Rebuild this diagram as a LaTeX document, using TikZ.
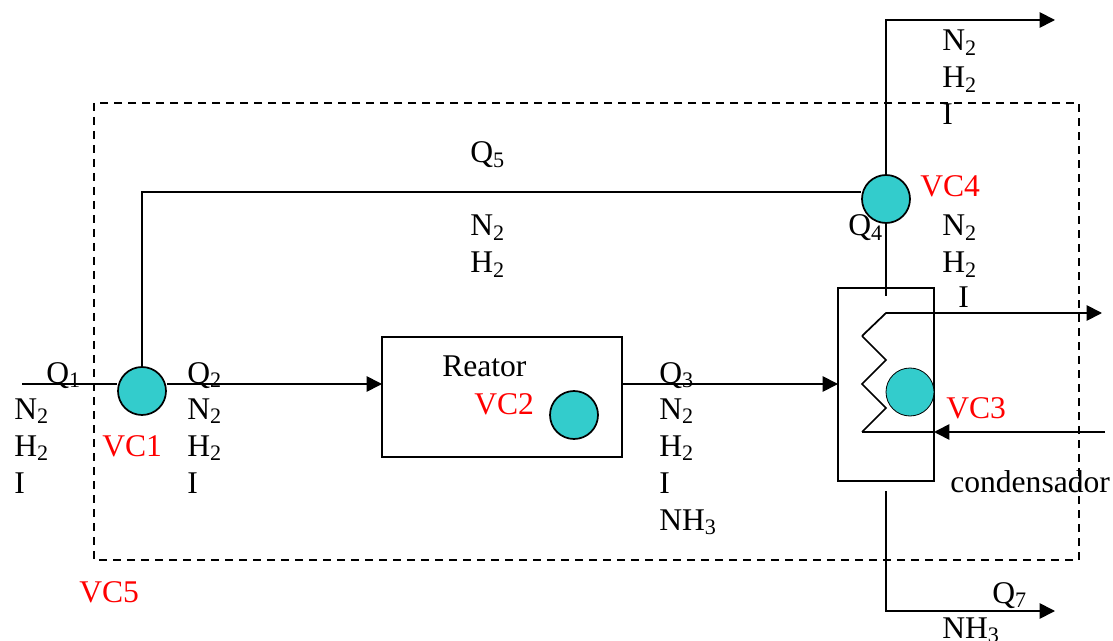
\documentclass[tikz,border=0pt]{standalone}
\usepackage{fontspec}
\setmainfont{Liberation Serif}
\usetikzlibrary{arrows.meta}
\usetikzlibrary{positioning}
\newcommand{\Ntwo}{N\textsubscript{2}}
\newcommand{\Htwo}{H\textsubscript{2}}
\newcommand{\NHtres}{NH\textsubscript{3}}
\newcommand{\Qsub}[1]{Q\textsubscript{#1}}
\definecolor{vcfill}{RGB}{51,204,204}
\tikzset{
	vc/.style={circle,draw,fill=vcfill,line width=1.3pt,minimum size=36pt,inner sep=0pt},
	equip/.style={draw,line width=1.3pt,inner sep=0pt},
	lbl/.style={anchor=base west,inner sep=0pt,font=\fontsize{23.7}{27.75}\selectfont,align=left},
	vclbl/.style={lbl,red},
	flow/.style={line width=1.3pt},
	flowarr/.style={flow,-{Triangle[length=11.5pt,width=11.5pt]}}
}
\begin{document}
\begin{tikzpicture}[x=0.75pt,y=-0.75pt]
			
			\useasboundingbox (0,0) rectangle (1113,641);
			
			\draw[line width=1.1pt,dash pattern=on 6pt off 4.5pt] (94,103) rectangle (1079,560);
			
			% equipamentos
			\node[equip,minimum width=180pt,minimum height=90pt] (reator) at (502,397) {};
			\node[equip,minimum width=72pt,minimum height=144.75pt] (cond) at (886,384.5) {};
			
			\coordinate (ent) at (22,384);
			\coordinate (reatorin) at (382,384);
			\coordinate (reatorout) at (622,384);
			\coordinate (condin) at (838,384);
			\coordinate (cantoA) at (142,192);
			\coordinate (cantoB) at (886,20);
			\coordinate (topo) at (1055,20);
			\coordinate (condtop) at (886,296);
			\coordinate (condbot) at (886,491);
			\coordinate (cantoC) at (886,611);
			\coordinate (baixo) at (1055,611);
			\coordinate (gasout) at (1102,313);
			\coordinate (aguain) at (1105,432);
			\coordinate (aguatip) at (934,432);
			\coordinate (coilA) at (862,336);
			\coordinate (coilB) at (862,432);
			
			\node[lbl] (q4) at (848,236) {\Qsub{4}};
			
			\node[vc] (vc1) at (142,391) {};
			\node[vc] (vc2) at (574,415) {};
			\node[vc,line width=0.6pt] (vc3) at (910,392) {};
			\node[vc] (vc4) at (886,199) {};
			
			% correntes
			\draw[flow] (ent) -- (vc1.west |- ent);
			\draw[flowarr] (vc1.east |- ent) -- (reatorin);
			\draw[flowarr] (reatorout) -- (condin);
			\draw[flow] (vc1.north) -- (cantoA) -- (vc4.west |- cantoA);
			\draw[flowarr] (vc4.north) -- (cantoB) -- (topo);
			\draw[flow] (vc4.south) -- (condtop);
			\draw[flowarr] (condbot) -- (cantoC) -- (baixo);
			\draw[flow] (coilB) -- (aguatip);
			\draw[flowarr] (aguain) -- (aguatip);
			\draw[flowarr] (coilA) -- (886,313) -- (gasout);
			\draw[flow] (coilA) -- (886,360) -- (862,384) -- (886,408) -- (coilB);
			
			% textos
			\node[lbl] (q1) at (46,383) {\Qsub{1}};
			\node[lbl] (s1) at (14,493) {\Ntwo\\\Htwo\\I};
			\node[lbl] (q2) at (187,383) {\Qsub{2}};
			\node[lbl] (s2) at (187,493) {\Ntwo\\\Htwo\\I};
			\node[lbl] (q3) at (659,383) {\Qsub{3}};
			\node[lbl] (s3) at (659,530) {\Ntwo\\\Htwo\\I\\\NHtres};
			\node[lbl] (q5) at (470,163) {\Qsub{5}};
			\node[lbl] (s5) at (470,273) {\Ntwo\\\Htwo};
			\node[lbl] (s6) at (942,125) {\Ntwo\\\Htwo\\I};
			\node[lbl] (s4) at (942,273) {\Ntwo\\\Htwo};
			\node[lbl] (i4) at (958,308) {I};
			\node[lbl] (q7) at (992,603) {\Qsub{7}};
			\node[lbl] (nh) at (942,638) {\NHtres};
			\node[lbl] (reatorlbl) at (442,377) {Reator};
			\node[lbl] (condlbl) at (950,492) {condensador};
			
			\node[vclbl] (lvc1) at (102,456) {VC1};
			\node[vclbl] (lvc2) at (474,414) {VC2};
			\node[vclbl] (lvc3) at (946,418) {VC3};
			\node[vclbl] (lvc4) at (920,197) {VC4};
			\node[vclbl] (lvc5) at (79,602) {VC5};
			
		\end{tikzpicture}
\end{document}
